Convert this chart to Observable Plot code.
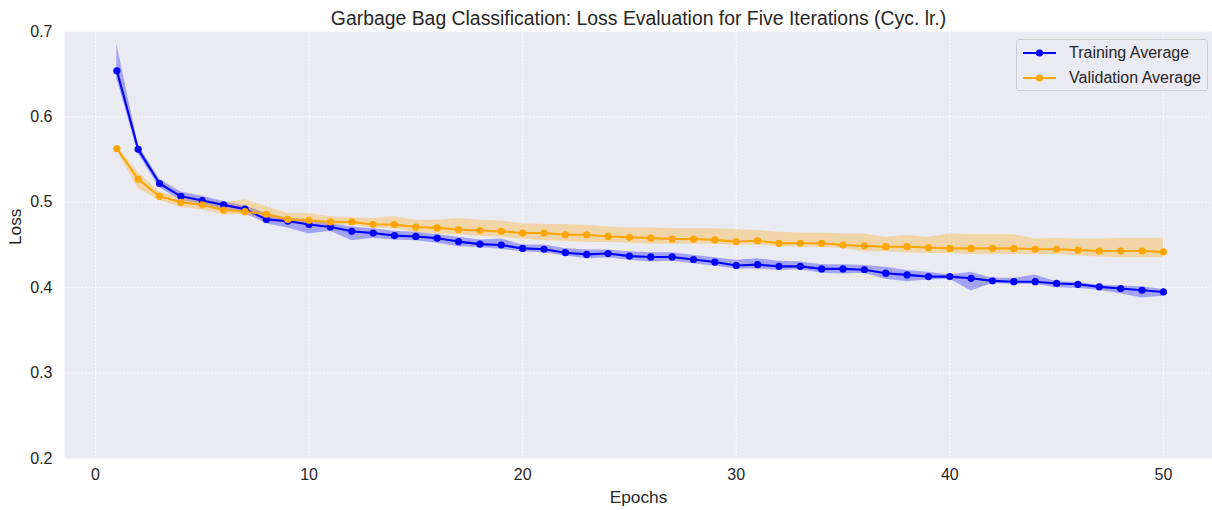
<!DOCTYPE html>
<html>
<head>
<meta charset="utf-8">
<script src="https://cdn.jsdelivr.net/npm/d3@7"></script>
<script src="https://cdn.jsdelivr.net/npm/@observablehq/plot@0.6"></script>
<style>
  html, body { margin: 0; padding: 0; background: #ffffff; }
  #wrap { position: relative; width: 1212px; height: 510px; font-family: "Liberation Sans", Arial, sans-serif; color: #262626; }
  #legend { position: absolute; left: 1016px; top: 39px; width: 192px; height: 52px;
            background: rgba(234,234,242,0.8); border: 1px solid #cccccc; border-radius: 3px; box-sizing: border-box; }
  .lrow { position: absolute; left: 0; height: 20px; display: flex; align-items: center; }
  .lrow span { font-size: 16px; color: #262626; white-space: nowrap; }
</style>
</head>
<body>
<div id="wrap"><div id="chart"></div><div id="legend"></div></div>
<script>
const chartTitle = "Garbage Bag Classification: Loss Evaluation for Five Iterations (Cyc. lr.)";
const xLabel = "Epochs";
const yLabel = "Loss";
const seriesNames = ["Training Average", "Validation Average"];
const seriesColors = ["#0000ff", "#ffa500"];
const xTicks = [0, 10, 20, 30, 40, 50];
const yTicks = [0.2, 0.3, 0.4, 0.5, 0.6, 0.7];

const epochs = [1,2,3,4,5,6,7,8,9,10,11,12,13,14,15,16,17,18,19,20,21,22,23,24,25,26,27,28,29,30,31,32,33,34,35,36,37,38,39,40,41,42,43,44,45,46,47,48,49,50];

const trainMean = [0.654,0.562,0.522,0.507,0.502,0.497,0.492,0.480,0.478,0.474,
                   0.471,0.466,0.464,0.461,0.460,0.458,0.454,0.451,0.450,0.446,
                   0.445,0.441,0.439,0.440,0.437,0.436,0.436,0.433,0.430,0.426,
                   0.427,0.425,0.425,0.422,0.422,0.421,0.417,0.415,0.413,0.413,
                   0.411,0.408,0.407,0.407,0.405,0.404,0.401,0.399,0.397,0.395];
const trainLow  = [0.645,0.557,0.517,0.502,0.498,0.492,0.487,0.475,0.470,0.463,
                   0.466,0.455,0.458,0.456,0.455,0.452,0.448,0.447,0.445,0.442,
                   0.441,0.437,0.434,0.435,0.432,0.430,0.431,0.428,0.425,0.422,
                   0.422,0.420,0.421,0.417,0.416,0.417,0.410,0.407,0.409,0.410,
                   0.396,0.405,0.404,0.404,0.400,0.399,0.397,0.393,0.388,0.390];
const trainHigh = [0.685,0.567,0.527,0.512,0.507,0.501,0.496,0.487,0.481,0.480,
                   0.475,0.471,0.469,0.466,0.465,0.462,0.459,0.456,0.457,0.450,
                   0.450,0.446,0.444,0.444,0.442,0.441,0.441,0.438,0.435,0.432,
                   0.434,0.431,0.430,0.427,0.427,0.426,0.424,0.420,0.418,0.415,
                   0.418,0.411,0.411,0.415,0.407,0.406,0.403,0.402,0.401,0.398];

const valMean = [0.563,0.527,0.507,0.500,0.497,0.491,0.489,0.486,0.480,0.479,
                 0.477,0.477,0.474,0.474,0.471,0.470,0.468,0.467,0.466,0.464,
                 0.464,0.462,0.462,0.460,0.459,0.458,0.457,0.457,0.456,0.454,
                 0.455,0.452,0.452,0.452,0.450,0.449,0.448,0.448,0.447,0.446,
                 0.446,0.446,0.446,0.445,0.445,0.444,0.443,0.443,0.443,0.442];
const valLow  = [0.561,0.516,0.502,0.494,0.491,0.485,0.486,0.480,0.475,0.475,
                 0.473,0.473,0.470,0.469,0.465,0.463,0.462,0.460,0.459,0.457,
                 0.455,0.454,0.453,0.453,0.452,0.451,0.451,0.451,0.451,0.450,
                 0.450,0.448,0.448,0.447,0.446,0.442,0.442,0.441,0.440,0.440,
                 0.439,0.439,0.439,0.439,0.439,0.437,0.436,0.435,0.435,0.435];
const valHigh = [0.566,0.535,0.512,0.505,0.503,0.499,0.503,0.495,0.487,0.487,
                 0.483,0.482,0.481,0.483,0.479,0.479,0.481,0.479,0.478,0.475,
                 0.474,0.474,0.473,0.471,0.470,0.470,0.469,0.469,0.469,0.468,
                 0.467,0.465,0.464,0.464,0.463,0.463,0.459,0.461,0.459,0.463,
                 0.462,0.462,0.462,0.457,0.458,0.457,0.457,0.458,0.458,0.458];

const rows = epochs.map((e, i) => ({
  epoch: e,
  train: trainMean[i], tlo: trainLow[i], thi: trainHigh[i],
  val: valMean[i], vlo: valLow[i], vhi: valHigh[i]
}));

const chart = Plot.plot({
  width: 1212,
  height: 510,
  marginTop: 31,
  marginBottom: 52,
  marginLeft: 64,
  marginRight: 0,
  style: { fontFamily: "'Liberation Sans', Arial, sans-serif", fontSize: "16px", color: "#262626", background: "#ffffff" },
  x: { domain: [-1.45, 52.3] },
  y: { domain: [0.2, 0.7] },
  marks: [
    Plot.frame({ fill: "#eaeaf2", stroke: null }),
    Plot.gridX(xTicks, { stroke: "#ffffff", strokeOpacity: 1, strokeWidth: 1, strokeDasharray: "1.5,2" }),
    Plot.gridY(yTicks, { stroke: "#ffffff", strokeOpacity: 1, strokeWidth: 1, strokeDasharray: "1.5,2" }),
    Plot.areaY(rows, { x: "epoch", y1: "tlo", y2: "thi", fill: seriesColors[0], fillOpacity: 0.3 }),
    Plot.areaY(rows, { x: "epoch", y1: "vlo", y2: "vhi", fill: seriesColors[1], fillOpacity: 0.3 }),
    Plot.lineY(rows, { x: "epoch", y: "train", stroke: seriesColors[0], strokeWidth: 2.1 }),
    Plot.dot(rows, { x: "epoch", y: "train", fill: seriesColors[0], r: 3.6 }),
    Plot.lineY(rows, { x: "epoch", y: "val", stroke: seriesColors[1], strokeWidth: 2.1 }),
    Plot.dot(rows, { x: "epoch", y: "val", fill: seriesColors[1], r: 3.6 }),
    Plot.axisX({ ticks: xTicks, tickSize: 0, tickPadding: 10, fontSize: 16, label: null }),
    Plot.axisY({ ticks: yTicks, tickFormat: d3.format(".1f"), tickSize: 0, tickPadding: 12, fontSize: 16, label: null }),
    Plot.text([xLabel], { frameAnchor: "bottom", dy: 39, lineAnchor: "middle", text: d => d, fontSize: 17.3, fill: "#262626" }),
    Plot.text([yLabel], { frameAnchor: "left", dx: -49, rotate: -90, lineAnchor: "middle", text: d => d, fontSize: 17.3, fill: "#262626" }),
    Plot.text([chartTitle], { frameAnchor: "top", dy: -13, lineAnchor: "middle", text: d => d, fontSize: 19.4, fill: "#262626" })
  ]
});
document.getElementById("chart").appendChild(chart);

// legend
const legend = document.getElementById("legend");
seriesNames.forEach((name, i) => {
  const row = document.createElement("div");
  row.className = "lrow";
  row.style.top = (3 + i * 25) + "px";
  row.innerHTML = `<svg width="40" height="20" style="margin-left:5px"><line x1="1" y1="10" x2="34" y2="10" stroke="${seriesColors[i]}" stroke-width="2.1"/><circle cx="17.5" cy="10" r="3.6" fill="${seriesColors[i]}"/></svg><span style="margin-left:7px">${name}</span>`;
  legend.appendChild(row);
});
</script>
</body>
</html>
